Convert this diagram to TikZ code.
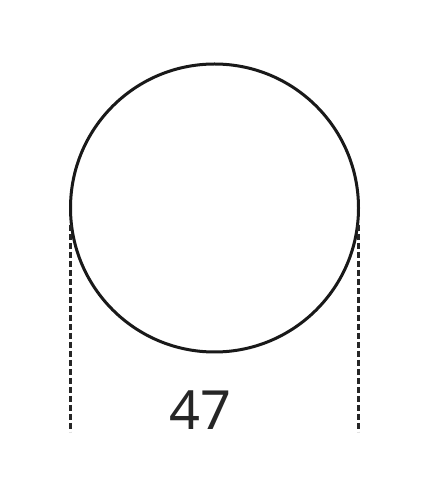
\documentclass[tikz,border=0pt]{standalone}
\usepackage{fontspec}
\setmainfont{Noto Sans}
\begin{document}
\begin{tikzpicture}[x=1pt,y=1pt,
  outline/.style={draw=black!90,line width=3pt,circle,minimum size=288pt,inner sep=0pt},
  extline/.style={draw=black!85,line width=3pt,dash pattern=on 6pt off 3pt},
  dimlabel/.style={font=\fontsize{54}{60}\selectfont, text=black!85, inner sep=0pt}]
\useasboundingbox[fill=white] (0,0) rectangle (423,487);
\node[outline] (c) at (214.5,279) {};
\coordinate (l1) at (70.5,262);
\coordinate (l2) at (70.5,55);
\coordinate (r1) at (358.5,262);
\coordinate (r2) at (358.5,55);
\draw[extline] (l1) -- (l2);
\draw[extline] (r1) -- (r2);
\node[dimlabel] (t) at (200,77) {47};
\end{tikzpicture}
\end{document}
